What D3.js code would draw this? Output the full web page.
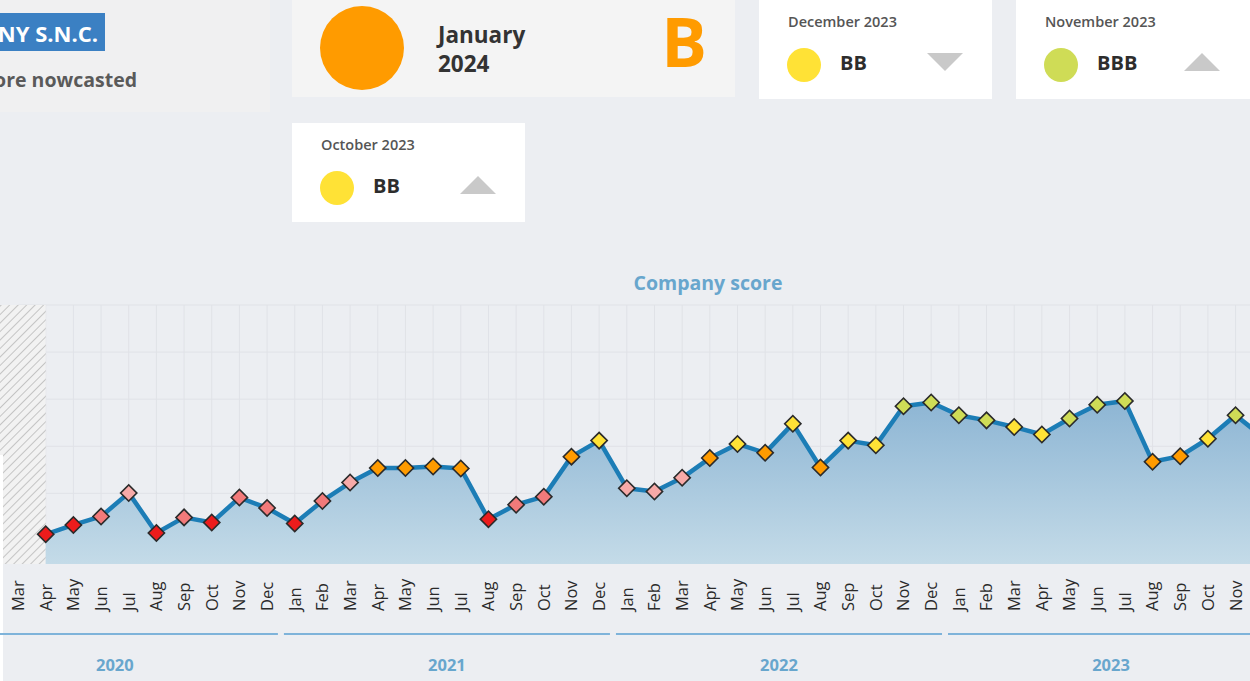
<!DOCTYPE html>
<html>
<head>
<meta charset="utf-8">
<script src="https://cdn.jsdelivr.net/npm/d3@7"></script>
<style>
  html, body { margin: 0; padding: 0; background: #eceef2; overflow: hidden; }
  svg { display: block; }
  text { font-family: "Open Sans", "Noto Sans", sans-serif; }
</style>
</head>
<body>
<svg id="chart" width="1250" height="681"></svg>
<script>
// ---------- data ----------
const months = [
  "2020-04","2020-05","2020-06","2020-07","2020-08","2020-09","2020-10","2020-11","2020-12",
  "2021-01","2021-02","2021-03","2021-04","2021-05","2021-06","2021-07","2021-08","2021-09","2021-10","2021-11","2021-12",
  "2022-01","2022-02","2022-03","2022-04","2022-05","2022-06","2022-07","2022-08","2022-09","2022-10","2022-11","2022-12",
  "2023-01","2023-02","2023-03","2023-04","2023-05","2023-06","2023-07","2023-08","2023-09","2023-10","2023-11","2023-12"
];
const scores = [
  1.13,1.33,1.51,2.01,1.16,1.49,1.38,1.91,1.69,
  1.36,1.84,2.23,2.54,2.54,2.57,2.53,1.45,1.76,1.93,2.78,3.12,
  2.11,2.04,2.33,2.75,3.05,2.86,3.48,2.55,3.12,3.02,3.85,3.93,
  3.66,3.55,3.41,3.25,3.59,3.88,3.96,2.67,2.79,3.16,3.66,3.19
];
const ratings = [
  "C","C","CC","CCC","C","CC","C","CC","CC",
  "C","CC","CCC","B","B","B","B","C","CC","CC","B","BB",
  "CCC","CCC","CCC","B","BB","B","BB","B","BB","BB","BBB","BBB",
  "BBB","BBB","BB","BB","BBB","BBB","BBB","B","B","BB","BBB","BB"
];
const ratingClasses = ["C","CC","CCC","B","BB","BBB"];
const ratingColors = ["#ec1c1c","#f27a7a","#f7aaa8","#ff9b00","#ffe236","#cfdc56"];
const monthNames = ["Jan","Feb","Mar","Apr","May","Jun","Jul","Aug","Sep","Oct","Nov","Dec"];
const years = [2020, 2021, 2022, 2023, 2024];
const gridValues = [1, 2, 3, 4, 5, 6];
// header cards
const cardLabels = ["December 2023", "November 2023", "October 2023"];
const cardRatings = ["BB", "BBB", "BB"];
const cardTrend = ["down", "up", "up"];
const currentLabel = ["January", "2024"];
const currentRating = "B";

// ---------- setup ----------
const svg = d3.select("#chart");
const W = 1250, H = 681;
const color = d3.scaleOrdinal().domain(ratingClasses).range(ratingColors);

const allMonths = [];
years.forEach(y => monthNames.forEach((m, i) => {
  const k = y + "-" + String(i + 1).padStart(2, "0");
  if (k <= "2024-01") allMonths.push(k);
}));
const plotTop = 305, plotBottom = 564;
const x = d3.scalePoint().domain(allMonths).range([-37.3, 1290.9]);
const step = x.step();
const y = d3.scaleLinear().domain([0.5, 6]).range([plotBottom, plotTop]);

const defs = svg.append("defs");
const grad = defs.append("linearGradient").attr("id", "areaGrad")
  .attr("gradientUnits", "userSpaceOnUse").attr("x1", 0).attr("x2", 0)
  .attr("y1", 395).attr("y2", plotBottom);
grad.append("stop").attr("offset", 0).attr("stop-color", "#8bb4d3");
grad.append("stop").attr("offset", 1).attr("stop-color", "#c4dbe8");
const pat = defs.append("pattern").attr("id", "hatch").attr("patternUnits", "userSpaceOnUse")
  .attr("width", 6).attr("height", 6).attr("patternTransform", "rotate(45)");
pat.append("rect").attr("width", 6).attr("height", 6).attr("fill", "#f2f2f2");
pat.append("line").attr("x1", 0).attr("y1", 0).attr("x2", 0).attr("y2", 6)
  .attr("stroke", "#b9b9b9").attr("stroke-width", 1.6);

// ---------- header ----------
svg.append("rect").attr("x", -10).attr("y", -10).attr("width", 280).attr("height", 122).attr("fill", "#f0f0f1");
svg.append("rect").attr("x", -10).attr("y", 13).attr("width", 115).attr("height", 38).attr("fill", "#3b80c3");
svg.append("text").attr("x", 98).attr("y", 42).attr("text-anchor", "end")
  .attr("fill", "#fff").attr("font-size", 22).attr("font-weight", 700).text("COMPANY S.N.C.");
svg.append("text").attr("x", 137).attr("y", 87).attr("text-anchor", "end")
  .attr("fill", "#5a5a5a").attr("font-size", 19.5).attr("font-weight", 700).text("Score nowcasted");

// current card
svg.append("rect").attr("x", 292).attr("y", -10).attr("width", 443).attr("height", 107).attr("fill", "#f4f4f4");
svg.append("circle").attr("cx", 362).attr("cy", 48).attr("r", 42).attr("fill", color(currentRating));
svg.append("text").attr("x", 438).attr("y", 43).attr("fill", "#333").attr("font-size", 22.5).attr("font-weight", 700).text(currentLabel[0]);
svg.append("text").attr("x", 438).attr("y", 72).attr("fill", "#333").attr("font-size", 22.5).attr("font-weight", 700).text(currentLabel[1]);
svg.append("text").attr("x", 684).attr("y", 67).attr("text-anchor", "middle").attr("fill", color(currentRating))
  .attr("font-size", 68).attr("font-weight", 700).text(currentRating);

// small cards
const cardPos = [[759, -10, 233, 109], [1016, -10, 244, 109], [292, 123, 233, 99]];
cardPos.forEach((p, i) => {
  const g = svg.append("g");
  const left = p[0];
  const top = i === 2 ? 123 : 0;
  g.append("rect").attr("x", p[0]).attr("y", p[1]).attr("width", p[2]).attr("height", p[3]).attr("fill", "#ffffff");
  g.append("text").attr("x", left + 29).attr("y", top + 27).attr("fill", "#555").attr("font-size", 14.5)
    .attr("font-weight", 600).text(cardLabels[i]);
  g.append("circle").attr("cx", left + 45).attr("cy", top + 65).attr("r", 17).attr("fill", color(cardRatings[i]));
  g.append("text").attr("x", left + 81).attr("y", top + 70).attr("fill", "#2d2d2d").attr("font-size", 20)
    .attr("font-weight", 700).text(cardRatings[i]);
  const tx = left + 186, ty = top + 62;
  const tri = cardTrend[i] === "down"
    ? [[tx - 18, ty - 9], [tx + 18, ty - 9], [tx, ty + 9]]
    : [[tx - 18, ty + 9], [tx + 18, ty + 9], [tx, ty - 9]];
  g.append("path").attr("d", d3.line()(tri) + "Z").attr("fill", "#c9c9c9");
});

// ---------- chart ----------
svg.append("text").attr("x", 708).attr("y", 290).attr("text-anchor", "middle")
  .attr("fill", "#68a6cd").attr("font-size", 19.5).attr("font-weight", 700).text("Company score");

const plot = svg.append("g");
plot.selectAll(".hg").data(gridValues).join("line")
  .attr("x1", x("2020-03")).attr("x2", W).attr("y1", d => y(d)).attr("y2", d => y(d))
  .attr("stroke", "#e0e2e7").attr("stroke-width", 1);
plot.selectAll(".vg").data(allMonths.filter(m => m >= "2020-03")).join("line")
  .attr("x1", d => x(d)).attr("x2", d => x(d)).attr("y1", plotTop).attr("y2", plotBottom)
  .attr("stroke", "#e0e2e7").attr("stroke-width", 1);

plot.append("rect").attr("x", x("2020-01")).attr("y", plotTop)
  .attr("width", x(months[0]) - x("2020-01")).attr("height", plotBottom - plotTop).attr("fill", "url(#hatch)");

const pts = months.map((m, i) => ({ m, v: scores[i], r: ratings[i] }));
const area = d3.area().x(d => x(d.m)).y0(plotBottom).y1(d => y(d.v));
const line = d3.line().x(d => x(d.m)).y(d => y(d.v));
plot.append("path").attr("d", area(pts)).attr("fill", "url(#areaGrad)");
plot.append("path").attr("d", line(pts)).attr("fill", "none").attr("stroke", "#1c7db6")
  .attr("stroke-width", 4.5).attr("stroke-linejoin", "round");

const diamond = d3.symbol().type(d3.symbolSquare).size(132);
plot.selectAll(".pt").data(pts).join("path")
  .attr("d", diamond)
  .attr("transform", d => `translate(${x(d.m)},${y(d.v)}) rotate(45)`)
  .attr("fill", d => color(d.r)).attr("stroke", "#2b2b2b").attr("stroke-width", 1.6);

svg.append("rect").attr("x", 0).attr("y", 455).attr("width", 3).attr("height", 230).attr("fill", "#ffffff");

// x-axis month labels
const labelMonths = allMonths.filter(m => m >= "2020-03");
svg.selectAll(".ml").data(labelMonths).join("text")
  .attr("transform", d => `translate(${x(d)},611) rotate(-90)`)
  .attr("dy", "0.36em").attr("text-anchor", "start")
  .attr("fill", "#2a2a2a").attr("font-size", 16.5)
  .text(d => monthNames[+d.slice(5) - 1]);

// year bands
years.forEach(yr => {
  const x0 = x(yr + "-01"), x1 = x(yr + "-12");
  if (x0 === undefined) return;
  const xe = x1 === undefined ? W + 20 : x1 + step / 2 - 3;
  svg.append("line").attr("x1", x0 - step / 2 + 3).attr("x2", xe).attr("y1", 634).attr("y2", 634)
    .attr("stroke", "#7eb3da").attr("stroke-width", 2);
  svg.append("text").attr("x", x1 === undefined ? x0 : (x0 + x1) / 2).attr("y", 671)
    .attr("text-anchor", "middle").attr("fill", "#68a6cd").attr("font-size", 16.5)
    .attr("font-weight", 700).text(yr);
});
</script>
</body>
</html>
